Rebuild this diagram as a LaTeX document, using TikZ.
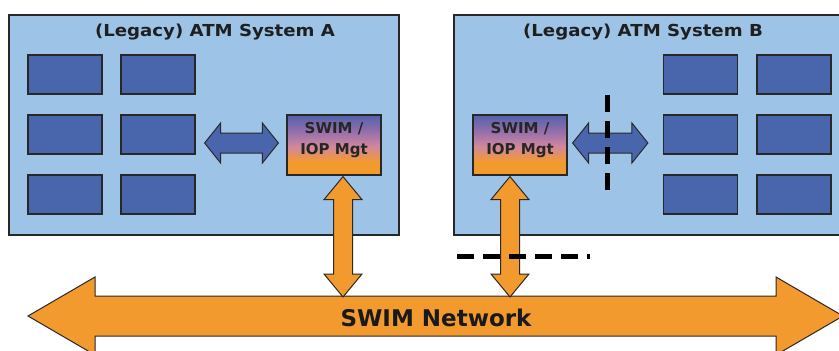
\documentclass[tikz,border=0pt]{standalone}
\usepackage{fontspec}
\setmainfont{DejaVu Sans}
\newfontfamily\titlefont{DejaVu Sans}[FakeStretch=1.1]
\usetikzlibrary{calc}
\definecolor{sysbg}{RGB}{157,195,230}
\definecolor{compblue}{RGB}{73,102,172}
\definecolor{swimorange}{RGB}{243,154,46}
\definecolor{edgec}{RGB}{40,40,40}
\definecolor{pinkmid}{RGB}{208,135,158}
\definecolor{purplemid}{RGB}{145,110,172}
\definecolor{topblue}{RGB}{82,98,170}
\pgfdeclareverticalshading{swimshade}{100bp}{color(0bp)=(swimorange); color(36bp)=(swimorange); color(49bp)=(pinkmid); color(62bp)=(purplemid); color(75bp)=(topblue); color(100bp)=(topblue)}
\newcommand\dblarrowH[6]{% style, left tip, right tip, shaft half, head half, head length
  \path[#1] (#2) -- ($(#2)+(#6,-#5)$) -- ($(#2)+(#6,-#4)$) -- ($(#3)+(-#6,-#4)$) -- ($(#3)+(-#6,-#5)$) -- (#3)
    -- ($(#3)+(-#6,#5)$) -- ($(#3)+(-#6,#4)$) -- ($(#2)+(#6,#4)$) -- ($(#2)+(#6,#5)$) -- cycle;}
\newcommand\dblarrowV[6]{% style, top tip, bottom tip, shaft half, head half, head length
  \path[#1] (#2) -- ($(#2)+(#5,#6)$) -- ($(#2)+(#4,#6)$) -- ($(#3)+(#4,-#6)$) -- ($(#3)+(#5,-#6)$) -- (#3)
    -- ($(#3)+(-#5,-#6)$) -- ($(#3)+(-#4,-#6)$) -- ($(#2)+(-#4,#6)$) -- ($(#2)+(-#5,#6)$) -- cycle;}
\begin{document}
\begin{tikzpicture}[x=1pt,y=-1pt,
  sysbox/.style={draw=edgec, line width=1.3pt, fill=sysbg, inner sep=0pt, minimum height=220pt},
  comp/.style={draw=edgec, line width=1.2pt, fill=compblue, inner sep=0pt, minimum width=74pt, minimum height=39pt},
  swimbox/.style={draw=edgec, line width=1.2pt, shade, shading=swimshade, inner sep=0pt, minimum width=94pt, minimum height=60pt},
  swimtext/.style={align=center, inner sep=0pt, text=black!85, font=\bfseries\fontsize{15}{21}\selectfont},
  title/.style={text=black!88, font=\titlefont\bfseries\fontsize{16.5}{20}\selectfont, inner sep=0pt},
  fatblue/.style={draw=edgec, line width=1pt, fill=compblue, line join=miter},
  fatorange/.style={draw=edgec, line width=1pt, fill=swimorange, line join=miter},
  barrier/.style={draw=black, line width=5pt, dash pattern=on 17pt off 9pt}]
\useasboundingbox (0,0) rectangle (839,351);
\clip (0,0) rectangle (839,351);
% systems
\node[sysbox, minimum width=390pt] (sysA) at (204,125) {};
\node[sysbox, minimum width=388pt] (sysB) at (648,125) {};
\node[title] (titleA) at (215,32) {(Legacy) ATM System A};
\node[title] (titleB) at (643,32) {(Legacy) ATM System B};
% components A
\node[comp] (a11) at (65,74.5) {};
\node[comp] (a12) at (158,74.5) {};
\node[comp] (a21) at (65,134.5) {};
\node[comp] (a22) at (158,134.5) {};
\node[comp] (a31) at (65,194.5) {};
\node[comp] (a32) at (158,194.5) {};
% components B
\node[comp] (b11) at (700.5,74.5) {};
\node[comp] (b12) at (794,74.5) {};
\node[comp] (b21) at (700.5,134.5) {};
\node[comp] (b22) at (794,134.5) {};
\node[comp] (b31) at (700.5,194.5) {};
\node[comp] (b32) at (794,194.5) {};
% SWIM boxes
\node[swimbox] (swimA) at (334,145) {};
\node[swimtext] (swimAtext) at ($(swimA)+(0,-5)$) {SWIM /\\IOP Mgt};
\node[swimbox] (swimB) at (520,145) {};
\node[swimtext] (swimBtext) at ($(swimB)+(0,-5)$) {SWIM /\\IOP Mgt};
% internal arrows
\coordinate (aL) at ($(a22.east)+(9,8.5)$);
\coordinate (aR) at ($(swimA.west)+(-8,-2)$);
\dblarrowH{fatblue}{aL}{aR}{10}{20}{16}
\coordinate (bL) at ($(swimB.east)+(5,-2)$);
\coordinate (bR) at ($(b21.west)+(-15,8.5)$);
\dblarrowH{fatblue}{bL}{bR}{10}{20}{16}
% network
\coordinate (netL) at (28,316);
\coordinate (netR) at (843,316);
\dblarrowH{fatorange}{netL}{netR}{20}{39}{67}
\node[font=\bfseries\fontsize{23}{26}\selectfont, text=black!90, inner sep=0pt] (net) at (436,318) {SWIM Network};
% vertical links
\coordinate (vAt) at ($(swimA.south)+(9,1)$);
\coordinate (vAb) at (343,297);
\dblarrowV{fatorange}{vAt}{vAb}{9.5}{19}{23}
\coordinate (vBt) at ($(swimB.south)+(-10,1)$);
\coordinate (vBb) at (510,297);
\dblarrowV{fatorange}{vBt}{vBb}{9.5}{19}{23}
% barriers
\coordinate (dv1) at (607,95);
\coordinate (dv2) at (607,193);
\draw[barrier] (dv1) -- (dv2);
\coordinate (dh1) at (457,256);
\coordinate (dh2) at (590,256);
\draw[barrier] (dh1) -- (dh2);
\end{tikzpicture}
\end{document}
